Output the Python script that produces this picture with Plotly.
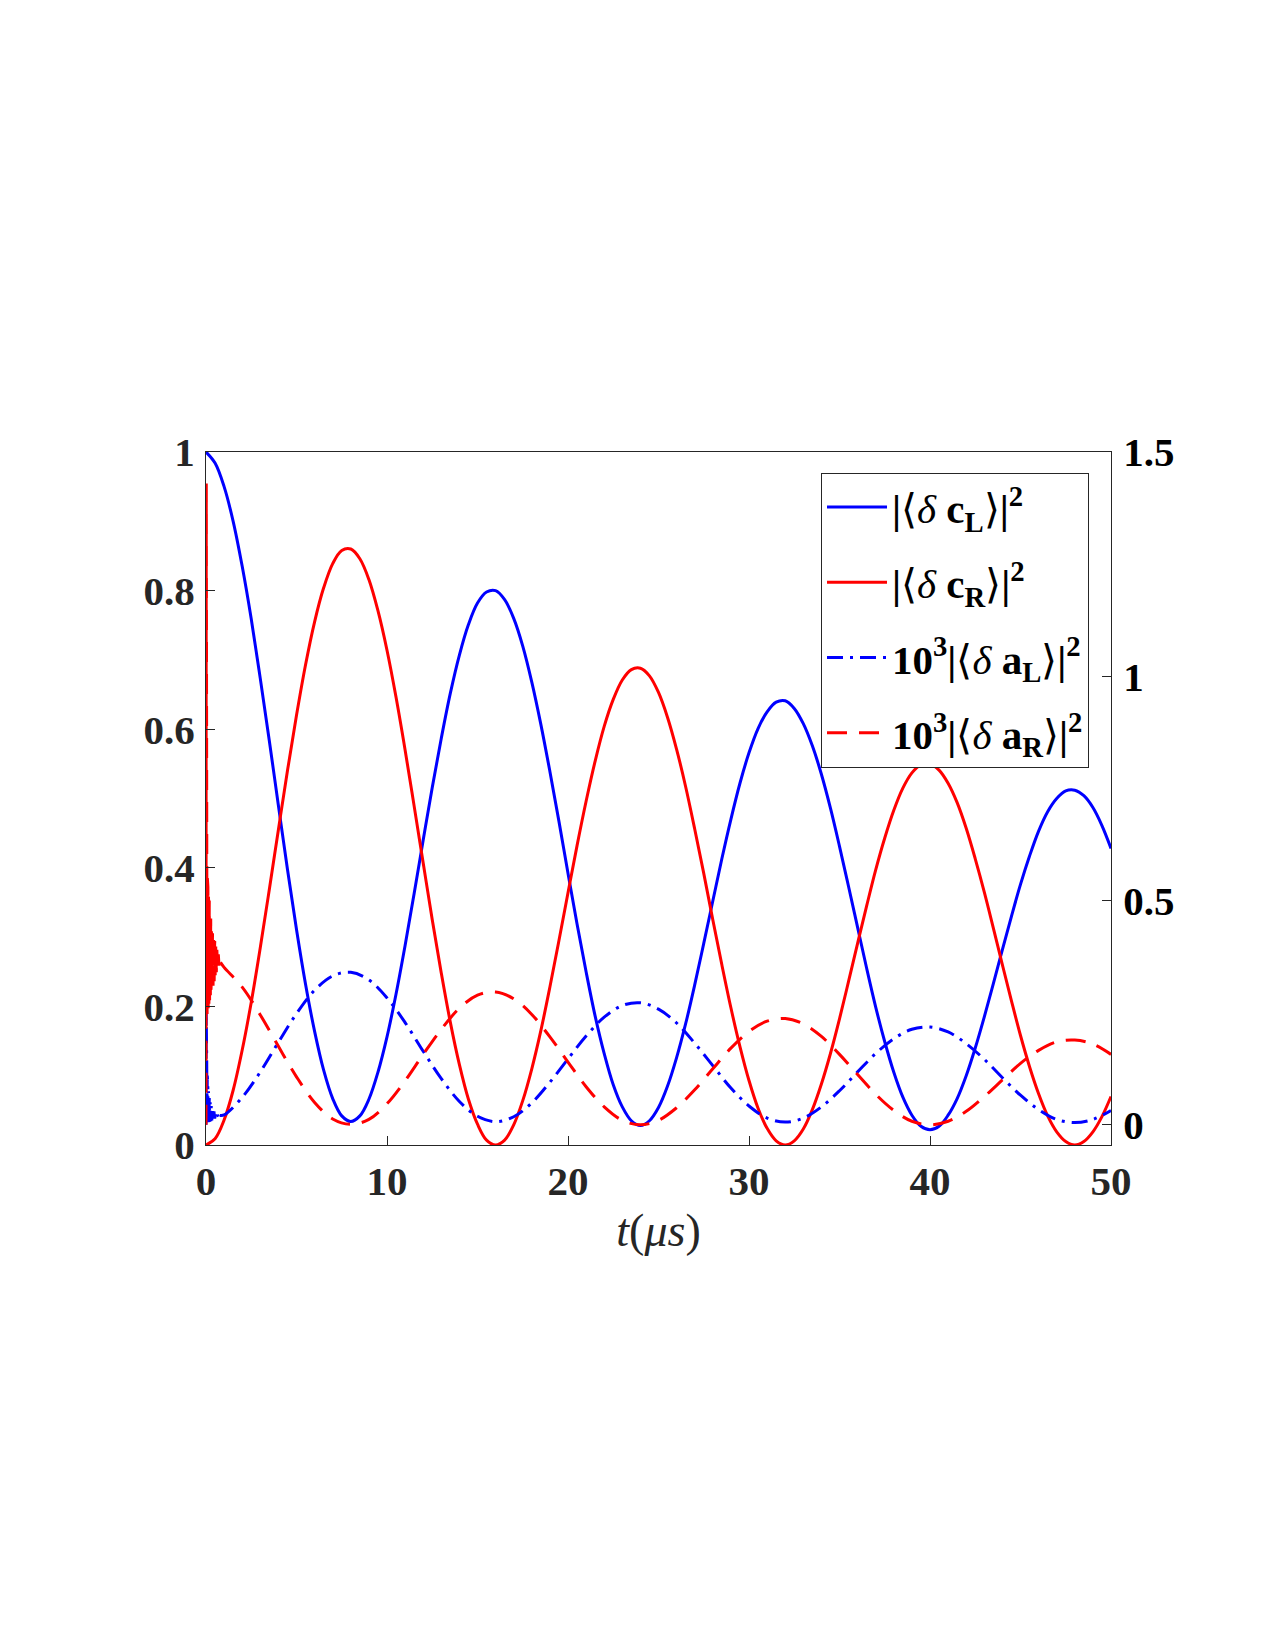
import plotly.graph_objects as go

# ---------------- data ----------------
t_half = [i * 0.5 for i in range(101)]  # 0, 0.5, ..., 50 microseconds

# |<delta c_L>|^2  (left axis), sampled every 0.5 us
cL = [1.000, 0.984, 0.950, 0.900, 0.835, 0.759, 0.673, 0.583, 0.490, 0.398,
      0.311, 0.232, 0.164, 0.108, 0.067, 0.042, 0.034, 0.042, 0.066, 0.105,
      0.156, 0.218, 0.288, 0.363, 0.440, 0.516, 0.587, 0.652, 0.707, 0.751,
      0.782, 0.798, 0.800, 0.787, 0.760, 0.720, 0.668, 0.607, 0.539, 0.467,
      0.392, 0.319, 0.250, 0.186, 0.132, 0.087, 0.055, 0.035, 0.028, 0.035,
      0.054, 0.085, 0.126, 0.175, 0.231, 0.291, 0.352, 0.413, 0.470, 0.522,
      0.566, 0.601, 0.625, 0.639, 0.641, 0.630, 0.608, 0.576, 0.535, 0.486,
      0.431, 0.373, 0.314, 0.255, 0.199, 0.149, 0.105, 0.069, 0.043, 0.027,
      0.022, 0.027, 0.043, 0.067, 0.100, 0.140, 0.185, 0.233, 0.282, 0.330,
      0.376, 0.417, 0.453, 0.481, 0.500, 0.511, 0.512, 0.504, 0.487, 0.461,
      0.428]

# |<delta c_R>|^2  (left axis), sampled every 0.5 us
cR = [0.000, 0.009, 0.036, 0.079, 0.137, 0.206, 0.285, 0.369, 0.455, 0.540,
      0.620, 0.693, 0.755, 0.804, 0.839, 0.858, 0.860, 0.846, 0.816, 0.771,
      0.714, 0.646, 0.570, 0.489, 0.407, 0.325, 0.248, 0.177, 0.116, 0.066,
      0.030, 0.007, 0.000, 0.007, 0.029, 0.064, 0.110, 0.165, 0.228, 0.295,
      0.364, 0.432, 0.496, 0.554, 0.604, 0.643, 0.671, 0.686, 0.688, 0.677,
      0.653, 0.617, 0.571, 0.517, 0.456, 0.392, 0.325, 0.260, 0.198, 0.142,
      0.093, 0.053, 0.024, 0.006, 0.000, 0.006, 0.023, 0.051, 0.088, 0.132,
      0.182, 0.236, 0.291, 0.345, 0.397, 0.443, 0.483, 0.515, 0.537, 0.549,
      0.550, 0.541, 0.522, 0.494, 0.457, 0.413, 0.365, 0.313, 0.260, 0.208,
      0.158, 0.113, 0.074, 0.042, 0.019, 0.005, 0.000, 0.005, 0.019, 0.041,
      0.070]

# 10^3 |<delta a_L>|^2  (right axis) - early transient
aL_spike_t = [0, 0.012, 0.025, 0.04, 0.055, 0.07, 0.085, 0.10, 0.12, 0.14,
              0.16, 0.18, 0.20, 0.23, 0.26, 0.29, 0.32, 0.36, 0.40, 0.44,
              0.48, 0.53, 0.58, 0.64, 0.70, 0.76]
aL_spike = [0.0, 0.256, 0.002, 0.14, 0.003, 0.11, 0.004, 0.09, 0.005, 0.075,
            0.006, 0.06, 0.007, 0.05, 0.008, 0.042, 0.01, 0.036, 0.012, 0.03,
            0.014, 0.026, 0.016, 0.022, 0.018, 0.021]
# smooth part, t = 0.76, 1..50
aL_t = [0.76] + list(range(1, 51))
aL = [0.021,
      0.022, 0.061, 0.118, 0.184, 0.248, 0.300, 0.332, 0.340, 0.323, 0.283,
      0.228, 0.164, 0.103, 0.052, 0.019, 0.007, 0.018, 0.049, 0.095, 0.147,
      0.198, 0.240, 0.266, 0.272, 0.258, 0.227, 0.182, 0.132, 0.082, 0.042,
      0.015, 0.006, 0.015, 0.040, 0.076, 0.118, 0.159, 0.192, 0.213, 0.218,
      0.207, 0.181, 0.146, 0.105, 0.066, 0.034, 0.012, 0.005, 0.012, 0.032]

# 10^3 |<delta a_R>|^2  (right axis) - early transient
aR_spike_t = [0, 0.015, 0.03, 0.045, 0.06, 0.075, 0.09, 0.105, 0.12, 0.14,
              0.16, 0.18, 0.20, 0.22, 0.24, 0.26, 0.28, 0.30, 0.33, 0.36,
              0.39, 0.42, 0.45, 0.48, 0.51, 0.54, 0.57, 0.60, 0.64, 0.68,
              0.72, 0.76, 0.80]
aR_spike = [0.0, 1.43, 0.23, 0.56, 0.24, 0.55, 0.25, 0.53, 0.26, 0.52,
            0.27, 0.50, 0.27, 0.48, 0.28, 0.46, 0.29, 0.44, 0.30, 0.43,
            0.31, 0.42, 0.32, 0.41, 0.33, 0.40, 0.34, 0.39, 0.35, 0.38,
            0.355, 0.37, 0.362]
aR_t = [0.80] + list(range(1, 51))
aR = [0.362,
      0.351, 0.307, 0.245, 0.175, 0.107, 0.050, 0.013, 0.001, 0.012, 0.047,
      0.098, 0.157, 0.213, 0.260, 0.289, 0.296, 0.281, 0.246, 0.196, 0.140,
      0.085, 0.040, 0.010, 0.000, 0.010, 0.038, 0.078, 0.125, 0.171, 0.208,
      0.231, 0.237, 0.225, 0.197, 0.157, 0.112, 0.068, 0.032, 0.008, 0.000,
      0.008, 0.030, 0.063, 0.100, 0.137, 0.166, 0.185, 0.189, 0.180, 0.157]

x_ticks = [0, 10, 20, 30, 40, 50]
y_ticks = [0, 0.2, 0.4, 0.6, 0.8, 1]
y_ticklabels = ["0", "0.2", "0.4", "0.6", "0.8", "1"]
y2_ticks = [0, 0.5, 1, 1.5]
y2_ticklabels = ["0", "0.5", "1", "1.5"]

N = "<span style='font-weight:normal'>"
names = [
    "|" + N + "⟨<i>δ</i></span> c<sub>L</sub>" + N + "⟩</span>|<sup>2</sup>",
    "|" + N + "⟨<i>δ</i></span> c<sub>R</sub>" + N + "⟩</span>|<sup>2</sup>",
    "10<sup>3</sup>|" + N + "⟨<i>δ</i></span> a<sub>L</sub>" + N + "⟩</span>|<sup>2</sup>",
    "10<sup>3</sup>|" + N + "⟨<i>δ</i></span> a<sub>R</sub>" + N + "⟩</span>|<sup>2</sup>",
]

BLUE = "#0000FF"
RED = "#FF0000"
AX = "#262626"
LW = 3
DASH = "20px,12px"
DASHDOT = "16px,7px,3px,7px"

fig = go.Figure()
fig.add_trace(go.Scatter(x=t_half, y=cL, mode="lines", name=names[0], legendgroup="cL",
                         line=dict(color=BLUE, width=LW, shape="spline", smoothing=1)))
fig.add_trace(go.Scatter(x=t_half, y=cR, mode="lines", name=names[1], legendgroup="cR",
                         line=dict(color=RED, width=LW, shape="spline", smoothing=1)))
fig.add_trace(go.Scatter(x=aL_spike_t, y=aL_spike, mode="lines", yaxis="y2",
                         showlegend=False, legendgroup="aL",
                         line=dict(color=BLUE, width=LW, dash=DASHDOT)))
fig.add_trace(go.Scatter(x=aL_t, y=aL, mode="lines", name=names[2], yaxis="y2",
                         legendgroup="aL",
                         line=dict(color=BLUE, width=LW, dash=DASHDOT, shape="spline",
                                   smoothing=1)))
fig.add_trace(go.Scatter(x=aR_spike_t, y=aR_spike, mode="lines", yaxis="y2",
                         showlegend=False, legendgroup="aR",
                         line=dict(color=RED, width=LW, dash=DASH)))
fig.add_trace(go.Scatter(x=aR_t, y=aR, mode="lines", name=names[3], yaxis="y2",
                         legendgroup="aR",
                         line=dict(color=RED, width=LW, dash=DASH, shape="spline",
                                   smoothing=1)))

tickfont = dict(family="Liberation Serif", size=41, color=AX, weight="bold")

fig.update_layout(
    width=1275, height=1650,
    margin=dict(l=206, r=164, t=452, b=505),
    paper_bgcolor="white", plot_bgcolor="white",
    font=dict(family="Liberation Serif", color=AX),
    xaxis=dict(range=[0, 50], tickvals=x_ticks, ticks="inside", ticklen=9,
               tickwidth=1.2, tickcolor=AX, showline=True, linecolor=AX,
               linewidth=1.3, mirror=True, showgrid=False, zeroline=False,
               tickfont=tickfont, ticklabelstandoff=0,
               title=dict(text="<i>t</i>(<i>μs</i>)", standoff=10,
                          font=dict(family="Liberation Serif", size=46, color=AX))),
    yaxis=dict(range=[0, 1], tickvals=y_ticks, ticktext=y_ticklabels,
               ticks="inside", ticklen=9, tickwidth=1.2, tickcolor=AX,
               showline=True, linecolor=AX, linewidth=1.3, mirror=True,
               showgrid=False, zeroline=False, tickfont=tickfont,
               ticklabelstandoff=2),
    yaxis2=dict(range=[-0.045, 1.5], tickvals=y2_ticks, ticktext=y2_ticklabels,
                overlaying="y", side="right", ticks="inside", ticklen=9,
                tickwidth=1.2, tickcolor=AX, showline=True, linecolor=AX,
                linewidth=1.3, showgrid=False, zeroline=False,
                tickfont=dict(family="Liberation Serif", size=41, color="black",
                              weight="bold"),
                ticklabelstandoff=3),
    legend=dict(x=0.9757, y=0.970, xanchor="right", yanchor="top",
                bgcolor="white", bordercolor=AX, borderwidth=1,
                font=dict(family="Liberation Serif", size=41, color="black",
                          weight="bold"),
                itemwidth=60, tracegroupgap=19),
    showlegend=True,
)

fig.write_html("out.html")
